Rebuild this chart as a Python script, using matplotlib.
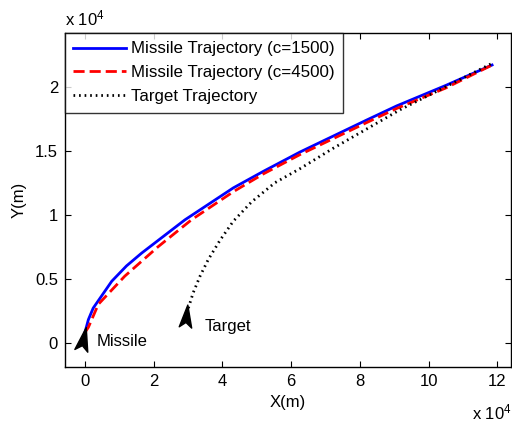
import matplotlib
matplotlib.use("Agg")
import matplotlib.pyplot as plt
from matplotlib.path import Path
from matplotlib.markers import MarkerStyle
from matplotlib.transforms import Affine2D

plt.rcParams['font.family'] = ['Liberation Sans', 'DejaVu Sans']
plt.rcParams['mathtext.fontset'] = 'custom'
plt.rcParams['mathtext.rm'] = 'Liberation Sans'
plt.rcParams['mathtext.it'] = 'Liberation Sans'

# Data (units of 1e4 m)
missile1_x = [0.00, 0.10, 0.24, 0.78, 1.21, 1.65, 2.91, 4.32, 5.20, 6.26, 8.20, 9.07, 10.50, 11.85]
missile1_y = [0.08, 0.18, 0.27, 0.48, 0.60, 0.70, 0.96, 1.21, 1.34, 1.49, 1.74, 1.85, 2.01, 2.17]
missile2_x = [0.00, 0.10, 0.39, 1.16, 2.13, 3.10, 4.32, 5.20, 6.26, 8.20, 9.07, 10.50, 11.85]
missile2_y = [0.08, 0.12, 0.30, 0.52, 0.75, 0.96, 1.18, 1.32, 1.47, 1.72, 1.83, 1.99, 2.17]
target_x = [3.01, 3.15, 3.35, 3.59, 3.93, 4.32, 4.85, 5.53, 6.26, 7.23, 8.20, 9.17, 10.50, 11.90]
target_y = [0.27, 0.39, 0.52, 0.65, 0.80, 0.95, 1.10, 1.25, 1.36, 1.52, 1.67, 1.82, 2.00, 2.19]
missile_start = (-0.05, 0.02)
target_start = (2.95, 0.20)
labels = ['Missile Trajectory (c=1500)', 'Missile Trajectory (c=4500)', 'Target Trajectory']
x_ticks = [0, 2, 4, 6, 8, 10, 12]
y_ticks = [0, 0.5, 1, 1.5, 2]
y_tick_labels = ['0', '0.5', '1', '1.5', '2']

FS = 12

fig = plt.figure(figsize=(5.12, 4.22), dpi=100)
ax = fig.add_axes([65/512, 1-367/422, (511-65)/512, (367-33)/422])

ax.plot(missile1_x, missile1_y, color='#0000ff', lw=2.0, label=labels[0])
ax.plot(missile2_x, missile2_y, color='#ff0000', lw=2.0, ls=(0, (4.0, 1.8)), label=labels[1])
ax.plot(target_x, target_y, color='black', lw=2.0, ls=(0, (0.6, 1.4)), label=labels[2])

arrow = Path([(0, 1), (0.5, -0.8), (0, -0.4), (-0.5, -0.8), (0, 1)],
             [Path.MOVETO, Path.LINETO, Path.LINETO, Path.LINETO, Path.CLOSEPOLY])
m1 = MarkerStyle(arrow, transform=Affine2D().rotate_deg(-12))
m2 = MarkerStyle(arrow, transform=Affine2D().rotate_deg(-6))
ax.plot([missile_start[0]], [missile_start[1]], marker=m1, ms=19, color='black', ls='none')
ax.plot([target_start[0]], [target_start[1]], marker=m2, ms=18, color='black', ls='none')

ax.text(0.33, 0.01, 'Missile', fontsize=FS, va='center', ha='left')
ax.text(3.49, 0.125, 'Target', fontsize=FS, va='center', ha='left')

ax.set_xlim(-0.58, 12.4)
ax.set_ylim(-0.19, 2.42)
ax.set_xticks(x_ticks)
ax.set_yticks(y_ticks)
ax.set_yticklabels(y_tick_labels)
ax.tick_params(direction='in', top=True, right=True, labelsize=FS, length=4, width=0.8, pad=5)
for s in ax.spines.values():
    s.set_linewidth(1.0)

ax.set_xlabel('X(m)', fontsize=FS, labelpad=4)
ax.set_ylabel('Y(m)', fontsize=FS, labelpad=6)

fig.text(65/512, 1-25/422, r'x 10$^{4}$', fontsize=FS, ha='left', va='baseline')
fig.text(472/512, 1-419/422, r'x 10$^{4}$', fontsize=FS, ha='left', va='baseline')

leg = ax.legend(loc='upper left', fontsize=12.2, frameon=True, fancybox=False,
                edgecolor='black', borderaxespad=0, handlelength=3.1,
                handletextpad=0.3, labelspacing=0.52, borderpad=0.5)
leg.get_frame().set_linewidth(1.0)

fig.savefig('out.png', dpi=100)
